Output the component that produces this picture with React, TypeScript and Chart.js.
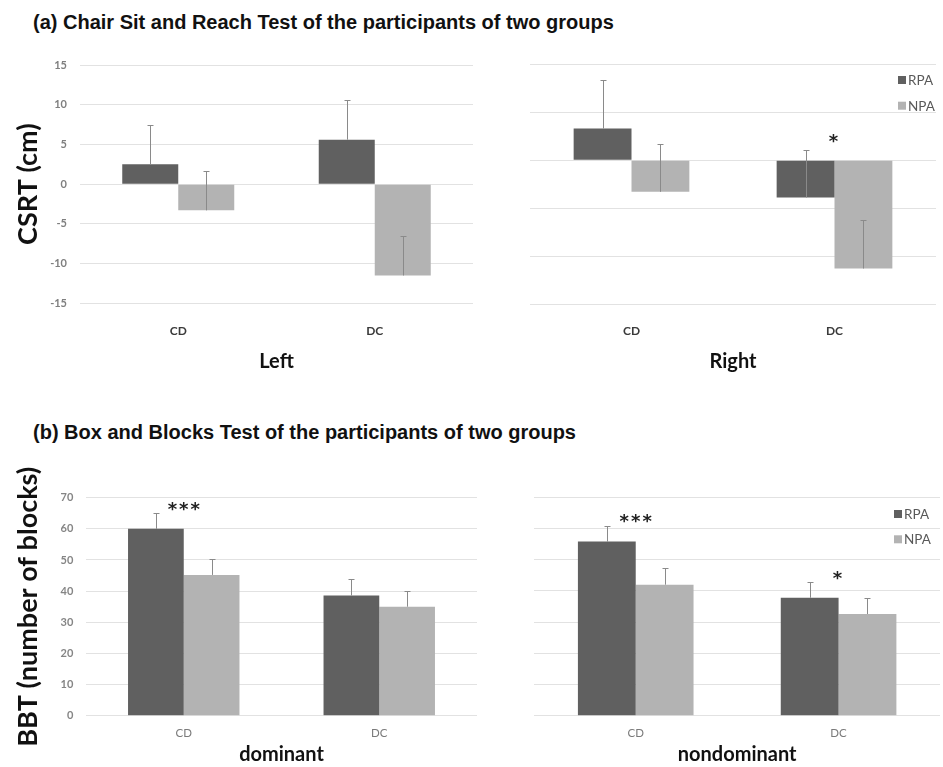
import { useEffect, useRef } from "react";
import { Chart, registerables } from "chart.js";

Chart.register(...registerables);

// ---- data ----
const groups = ["CD", "DC"];
const seriesNames = ["RPA", "NPA"];
const seriesColors = ["#606060", "#b3b3b3"];

// Chair Sit and Reach Test (cm), mean and SD
const csrtLeftRPA = [2.5, 5.6];
const csrtLeftNPA = [-3.3, -11.5];
const csrtLeftRPAsd = [5.0, 5.0];
const csrtLeftNPAsd = [5.0, 5.0];
const csrtRightRPA = [3.3, -3.9];
const csrtRightNPA = [-3.3, -11.3];
const csrtRightRPAsd = [5.1, 5.0];
const csrtRightNPAsd = [5.0, 5.1];
const csrtLeftMarks = ["", ""];
const csrtRightMarks = ["", "*"];

// Box and Blocks Test (number of blocks), mean and SD
const bbtDomRPA = [60.0, 38.6];
const bbtDomNPA = [45.2, 35.0];
const bbtDomRPAsd = [5.0, 5.3];
const bbtDomNPAsd = [5.0, 5.0];
const bbtNonRPA = [55.8, 37.8];
const bbtNonNPA = [42.0, 32.6];
const bbtNonRPAsd = [5.1, 5.0];
const bbtNonNPAsd = [5.3, 5.2];
const bbtDomMarks = ["***", ""];
const bbtNonMarks = ["***", "*"];

const csrtRange = { min: -15, max: 15, step: 5 };
const csrtRightRange = { min: -15, max: 10, step: 5 };
const bbtRange = { min: 0, max: 70, step: 10 };

const AXIS_FONT = "Lato";

// error bars (mean + SD, drawn upward) and significance marks
const errorBarPlugin = {
  id: "errorBars",
  afterDatasetsDraw(chart: any, _args: any, opts: any) {
    const { ctx } = chart;
    const yScale = chart.scales.y;
    const xScale = chart.scales.x;
    const tops: number[] = [];
    ctx.save();
    ctx.strokeStyle = opts.color || "#8a8a8a";
    ctx.lineWidth = 1;
    chart.data.datasets.forEach((ds: any, di: number) => {
      const meta = chart.getDatasetMeta(di);
      meta.data.forEach((bar: any, i: number) => {
        const v = ds.data[i];
        const top = yScale.getPixelForValue(v + ds.errors[i]);
        tops[i] = tops[i] === undefined ? top : Math.min(tops[i], top);
        const x = Math.round(bar.x) + 0.5;
        const yt = Math.round(top) + 0.5;
        ctx.beginPath();
        ctx.moveTo(x, bar.y);
        ctx.lineTo(x, yt);
        ctx.moveTo(x - 3, yt);
        ctx.lineTo(x + 3, yt);
        ctx.stroke();
      });
    });
    const marks: string[] = opts.marks || [];
    ctx.fillStyle = "#222";
    ctx.font = 'bold 18px "DejaVu Sans"';
    ctx.textAlign = "center";
    ctx.textBaseline = "middle";
    try {
      (ctx as any).letterSpacing = "2px";
    } catch (e) {}
    marks.forEach((m, i) => {
      if (!m) return;
      const x = xScale.getPixelForValue(i);
      ctx.fillText(m, x + (m.length > 1 ? 1 : 0), tops[i] - (opts.markGap || 4));
    });
    ctx.restore();
  },
};

// series key inside the plot area, top right
const keyPlugin = {
  id: "seriesKey",
  afterDraw(chart: any, _args: any, opts: any) {
    if (!opts.show) return;
    const { ctx, chartArea } = chart;
    ctx.save();
    ctx.font = `13.5px ${AXIS_FONT}`;
    ctx.textBaseline = "middle";
    ctx.textAlign = "left";
    chart.data.datasets.forEach((ds: any, i: number) => {
      const x = chartArea.right - opts.fromRight;
      const y = chartArea.top + opts.fromTop + i * opts.gap;
      ctx.fillStyle = ds.backgroundColor;
      ctx.fillRect(x, y - 4, 8, 8);
      ctx.fillStyle = "#595959";
      ctx.fillText(ds.label, x + 10, y + 0.5);
    });
    ctx.restore();
  },
};

type PanelProps = {
  left: number;
  top: number;
  width: number;
  height: number;
  rpa: number[];
  npa: number[];
  rpaSd: number[];
  npaSd: number[];
  marks: string[];
  markGap: number;
  range: { min: number; max: number; step: number };
  pad: { top: number; right: number };
  yWidth: number;
  xHeight: number;
  yTitle?: string;
  yTicks: boolean;
  yTickPad: number;
  yTickFont: any;
  yTickColor: string;
  xTitle: string;
  xTickFont: any;
  xTickColor: string;
  xTickPad: number;
  xTitlePad: number;
  legendPos?: { fromRight: number; fromTop: number; gap: number };
};

function BarPanel(p: PanelProps) {
  const ref = useRef<HTMLCanvasElement>(null);
  useEffect(() => {
    if (!ref.current) return;
    const chart = new Chart(ref.current, {
      type: "bar",
      data: {
        labels: groups,
        datasets: [
          {
            label: seriesNames[0],
            data: p.rpa,
            errors: p.rpaSd,
            backgroundColor: seriesColors[0],
            borderWidth: 0,
          } as any,
          {
            label: seriesNames[1],
            data: p.npa,
            errors: p.npaSd,
            backgroundColor: seriesColors[1],
            borderWidth: 0,
          } as any,
        ],
      },
      options: {
        animation: false,
        responsive: false,
        devicePixelRatio: 1,
        events: [],
        datasets: { bar: { categoryPercentage: 0.57, barPercentage: 1.0 } },
        layout: { padding: { top: p.pad.top, right: p.pad.right, left: 0, bottom: 0 } },
        scales: {
          x: {
            grid: { display: false, drawTicks: false, tickLength: 0 },
            border: { display: false },
            ticks: { font: p.xTickFont, color: p.xTickColor, padding: p.xTickPad },
            title: {
              display: true,
              text: p.xTitle,
              font: { family: AXIS_FONT, size: 20, weight: "bold" },
              color: "#111",
              padding: { top: 0, bottom: p.xTitlePad },
            },
            afterFit: (s: any) => {
              s.height = p.xHeight;
            },
          },
          y: {
            min: p.range.min,
            max: p.range.max,
            grid: { color: "#e2e2e2", lineWidth: 1, drawTicks: false, tickLength: 0 },
            border: { display: false },
            ticks: {
              display: p.yTicks,
              stepSize: p.range.step,
              font: p.yTickFont,
              color: p.yTickColor,
              padding: p.yTickPad,
            },
            title: {
              display: !!p.yTitle,
              text: p.yTitle || "",
              font: { family: AXIS_FONT, size: 27, weight: "bold" },
              color: "#111",
              padding: { top: 11.8, bottom: 0 },
            },
            afterFit: (s: any) => {
              s.width = p.yWidth;
            },
          },
        },
        plugins: {
          legend: { display: false },
          tooltip: { enabled: false },
          errorBars: { marks: p.marks, markGap: p.markGap, color: "#8a8a8a" },
          seriesKey: p.legendPos ? { show: true, ...p.legendPos } : { show: false },
        } as any,
      },
      plugins: [errorBarPlugin, keyPlugin],
    });
    return () => chart.destroy();
  }, []);
  return (
    <canvas
      ref={ref}
      width={p.width}
      height={p.height}
      style={{ position: "absolute", left: p.left, top: p.top, width: p.width, height: p.height }}
    />
  );
}

const headingStyle: any = {
  position: "absolute",
  left: 33,
  fontFamily: '"Liberation Sans", Arial, sans-serif',
  fontWeight: "bold",
  fontSize: 20,
  lineHeight: "22px",
  color: "#111",
  whiteSpace: "nowrap",
};

export default function App() {
  useEffect(() => {
    document.body.style.margin = "0";
    document.body.style.background = "#ffffff";
  }, []);

  const aTickY = { family: AXIS_FONT, size: 11, weight: "bold" };
  const aTickX = { family: AXIS_FONT, size: 12, weight: "bold" };
  const bTickY = { family: AXIS_FONT, size: 11, weight: "bold" };
  const bTickX = { family: AXIS_FONT, size: 11.5 };

  return (
    <div style={{ position: "relative", width: 943, height: 767, background: "#fff", overflow: "hidden" }}>
      <div style={{ ...headingStyle, top: 11 }}>(a) Chair Sit and Reach Test of the participants of two groups</div>
      <div style={{ ...headingStyle, top: 421 }}>(b) Box and Blocks Test of the participants of two groups</div>

      <BarPanel
        left={0}
        top={40}
        width={480}
        height={340}
        rpa={csrtLeftRPA}
        npa={csrtLeftNPA}
        rpaSd={csrtLeftRPAsd}
        npaSd={csrtLeftNPAsd}
        marks={csrtLeftMarks}
        markGap={7}
        range={csrtRange}
        pad={{ top: 25, right: 7 }}
        yWidth={80}
        xHeight={76.7}
        yTitle="CSRT (cm)"
        yTicks={true}
        yTickPad={13}
        yTickFont={aTickY}
        yTickColor="#7f7f7f"
        xTitle="Left"
        xTickFont={aTickX}
        xTickColor="#3a3a3a"
        xTickPad={20.5}
        xTitlePad={6}
      />
      <BarPanel
        left={480}
        top={40}
        width={463}
        height={340}
        rpa={csrtRightRPA}
        npa={csrtRightNPA}
        rpaSd={csrtRightRPAsd}
        npaSd={csrtRightNPAsd}
        marks={csrtRightMarks}
        markGap={7}
        range={csrtRightRange}
        pad={{ top: 24.3, right: 7 }}
        yWidth={50}
        xHeight={76}
        yTicks={false}
        yTickPad={13}
        yTickFont={aTickY}
        yTickColor="#7f7f7f"
        xTitle="Right"
        xTickFont={aTickX}
        xTickColor="#3a3a3a"
        xTickPad={19.5}
        xTitlePad={6.3}
        legendPos={{ fromRight: 38, fromTop: 15.7, gap: 25.7 }}
      />
      <BarPanel
        left={0}
        top={440}
        width={480}
        height={327}
        rpa={bbtDomRPA}
        npa={bbtDomNPA}
        rpaSd={bbtDomRPAsd}
        npaSd={bbtDomNPAsd}
        marks={bbtDomMarks}
        markGap={3}
        range={bbtRange}
        pad={{ top: 57.7, right: 3 }}
        yWidth={86}
        xHeight={51.3}
        yTitle="BBT (number of blocks)"
        yTicks={true}
        yTickPad={12.7}
        yTickFont={bTickY}
        yTickColor="#858585"
        xTitle="dominant"
        xTickFont={bTickX}
        xTickColor="#7a7a7a"
        xTickPad={10.4}
        xTitlePad={0}
      />
      <BarPanel
        left={480}
        top={440}
        width={463}
        height={327}
        rpa={bbtNonRPA}
        npa={bbtNonNPA}
        rpaSd={bbtNonRPAsd}
        npaSd={bbtNonNPAsd}
        marks={bbtNonMarks}
        markGap={3}
        range={bbtRange}
        pad={{ top: 57.3, right: 3 }}
        yWidth={54.3}
        xHeight={51.3}
        yTicks={false}
        yTickPad={12.7}
        yTickFont={bTickY}
        yTickColor="#858585"
        xTitle="nondominant"
        xTickFont={bTickX}
        xTickColor="#7a7a7a"
        xTickPad={10.4}
        xTitlePad={0}
        legendPos={{ fromRight: 46, fromTop: 16.7, gap: 25.3 }}
      />
    </div>
  );
}
